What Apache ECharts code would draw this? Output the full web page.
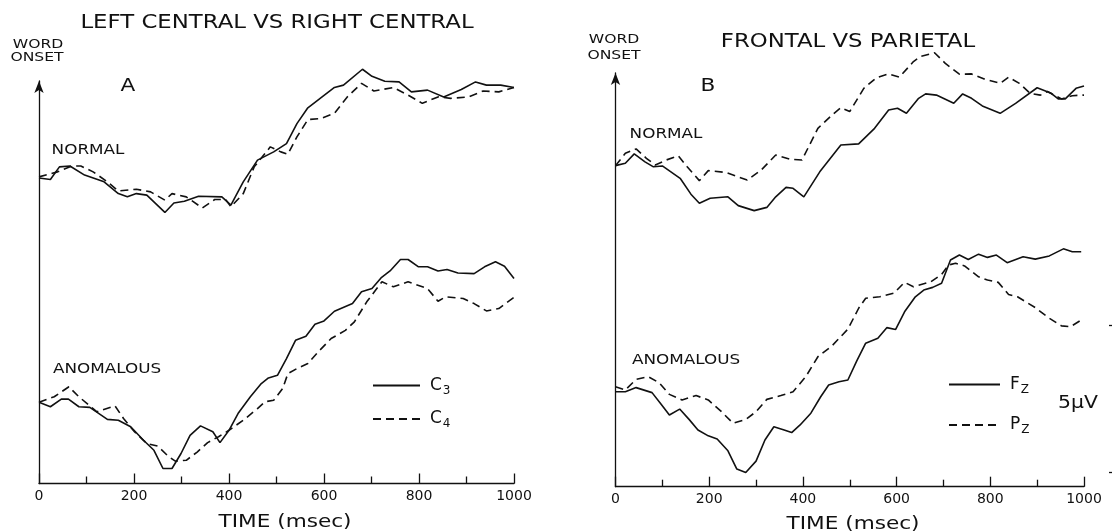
<!DOCTYPE html>
<html>
<head>
<meta charset="utf-8">
<title>Word onset ERP</title>
<script src="https://cdn.jsdelivr.net/npm/echarts@6.0.0/dist/echarts.min.js"></script>
<style>
    html, body { margin: 0; padding: 0; background: #fff; }
    #chart { width: 1112px; height: 531px; }
</style>
</head>
<body>
<div id="chart"></div>
<script>
'use strict';

// [time (msec), amplitude (µV above the time axis)]
// panel A: left central (C3) vs right central (C4)
var c3Normal = [[0,10.39],[24,10.34],[43,10.77],[65,10.80],[96,10.49],[137,10.26],[167,9.86],[186,9.75],[205,9.86],[227,9.81],[265,9.22],[284,9.54],[306,9.60],[336,9.77],[385,9.75],[404,9.47],[430,10.26],[460,11.00],[494,11.28],[521,11.56],[543,12.24],[566,12.78],[596,13.15],[622,13.47],[641,13.55],[681,14.09],[701,13.85],[728,13.68],[758,13.66],[784,13.32],[818,13.38],[852,13.15],[889,13.40],[919,13.66],[942,13.55],[972,13.55],[1000,13.47]];
var c4Normal = [[0,10.43],[39,10.60],[69,10.80],[88,10.80],[114,10.60],[144,10.26],[167,9.95],[205,10.01],[235,9.92],[265,9.64],[280,9.86],[310,9.75],[344,9.37],[370,9.66],[393,9.66],[404,9.41],[430,9.86],[453,10.77],[487,11.45],[509,11.28],[524,11.20],[543,11.79],[566,12.38],[592,12.41],[622,12.59],[649,13.15],[679,13.61],[705,13.35],[746,13.47],[777,13.21],[807,12.93],[840,13.15],[867,13.10],[904,13.15],[935,13.35],[968,13.32],[1000,13.47]];
var c3Anomalous = [[0,2.76],[24,2.61],[47,2.87],[62,2.87],[84,2.61],[107,2.59],[144,2.18],[167,2.15],[193,1.93],[220,1.47],[242,1.13],[261,0.51],[280,0.51],[299,1.02],[318,1.64],[340,1.96],[366,1.76],[381,1.39],[400,1.81],[419,2.38],[445,2.95],[468,3.40],[483,3.59],[502,3.68],[521,4.25],[540,4.87],[562,5.01],[581,5.42],[600,5.53],[622,5.86],[660,6.12],[679,6.52],[701,6.63],[720,6.99],[739,7.23],[761,7.62],[777,7.62],[799,7.37],[818,7.37],[840,7.23],[859,7.28],[882,7.16],[916,7.14],[938,7.37],[961,7.54],[980,7.39],[1000,6.97]];
var c4Anomalous = [[0,2.76],[32,2.95],[63,3.29],[84,2.95],[122,2.44],[160,2.64],[178,2.21],[201,1.76],[227,1.36],[250,1.27],[272,0.93],[287,0.76],[310,0.79],[333,1.07],[355,1.39],[378,1.59],[400,1.81],[430,2.15],[460,2.55],[476,2.78],[494,2.83],[513,3.23],[524,3.74],[543,3.91],[566,4.08],[588,4.48],[615,4.93],[645,5.21],[664,5.50],[690,6.18],[722,6.86],[746,6.69],[777,6.86],[818,6.63],[840,6.20],[856,6.35],[893,6.29],[916,6.12],[942,5.87],[968,5.95],[1000,6.33]];

// panel B: frontal (Fz) vs parietal (Pz)
var fzNormal = [[0,10.92],[21,11.00],[40,11.32],[63,11.05],[81,10.88],[100,10.91],[138,10.49],[161,9.95],[179,9.64],[202,9.81],[240,9.86],[262,9.56],[296,9.39],[323,9.50],[342,9.86],[364,10.18],[379,10.15],[402,9.86],[436,10.71],[481,11.62],[519,11.66],[553,12.19],[583,12.81],[602,12.87],[621,12.70],[647,13.21],[662,13.36],[685,13.32],[722,13.04],[741,13.36],[760,13.21],[783,12.95],[821,12.70],[854,13.04],[900,13.57],[930,13.38],[945,13.19],[960,13.19],[983,13.55],[1000,13.63]];
var pzNormal = [[0,10.92],[21,11.34],[44,11.49],[66,11.17],[85,10.94],[108,11.11],[134,11.26],[153,10.88],[179,10.41],[198,10.75],[236,10.69],[281,10.43],[311,10.77],[342,11.28],[372,11.14],[398,11.11],[432,12.19],[462,12.64],[481,12.89],[500,12.76],[530,13.55],[557,13.91],[583,14.04],[606,13.93],[636,14.46],[651,14.63],[681,14.76],[704,14.40],[734,14.03],[760,14.04],[787,13.87],[821,13.72],[839,13.93],[862,13.72],[885,13.38],[907,13.32],[922,13.44],[952,13.19],[975,13.30],[1000,13.32]];
var fzAnomalous = [[0,3.23],[21,3.23],[44,3.37],[78,3.20],[97,2.81],[115,2.44],[137,2.64],[157,2.29],[176,1.93],[198,1.73],[217,1.62],[240,1.22],[259,0.60],[278,0.48],[300,0.87],[319,1.59],[338,2.04],[360,1.93],[376,1.84],[394,2.10],[417,2.50],[438,3.06],[455,3.46],[477,3.57],[496,3.63],[515,4.28],[534,4.88],[560,5.05],[579,5.41],[598,5.35],[617,5.95],[640,6.46],[658,6.69],[677,6.78],[696,6.92],[715,7.71],[734,7.88],[753,7.73],[775,7.91],[794,7.80],[813,7.88],[836,7.62],[870,7.82],[896,7.74],[926,7.85],[956,8.09],[975,7.99],[994,7.99]];
var pzAnomalous = [[0,3.40],[21,3.29],[44,3.65],[70,3.74],[93,3.54],[115,3.14],[142,2.95],[172,3.10],[198,2.95],[225,2.57],[251,2.16],[278,2.29],[300,2.55],[323,2.97],[353,3.10],[379,3.23],[406,3.74],[432,4.42],[462,4.79],[496,5.36],[519,6.07],[534,6.41],[564,6.46],[594,6.58],[617,6.95],[636,6.80],[673,6.97],[696,7.22],[711,7.54],[726,7.60],[745,7.51],[775,7.14],[794,7.03],[817,6.95],[839,6.54],[858,6.46],[896,6.09],[926,5.73],[952,5.47],[971,5.44],[994,5.67]];

var timeTicks = [0, 1000, 200];      // min, max, labelled step (msec)
var scaleBar = [0.5, 5.5];           // 5 µV calibration marks

// layout (px)
var PX_PER_UV = 29.4;
var FONT = '"DejaVu Sans", sans-serif';
var INK = '#111';
var DASH = [8, 5];
var gridA = {left: 39, right: 598, top: 81, bottom: 47.5};
var gridB = {left: 615.5, right: 28, top: 73, bottom: 44.3};

function yMax(grid) {
    return (531 - grid.bottom - grid.top) / PX_PER_UV;
}

function timeAxis(gridIndex) {
    return {
        type: 'value',
        gridIndex: gridIndex,
        min: timeTicks[0],
        max: timeTicks[1],
        interval: timeTicks[2],
        axisLine: {lineStyle: {color: INK, width: 1.3}},
        axisTick: {inside: true, length: 10, lineStyle: {color: INK, width: 1.3}},
        minorTick: {show: true, splitNumber: 2, length: 7, lineStyle: {color: INK, width: 1.3}},
        splitLine: {show: false},
        axisLabel: {
            color: INK,
            fontFamily: FONT,
            fontSize: 14,
            margin: 6,
            formatter: function (v) {
                return String(v);
            }
        }
    };
}

function ampAxis(gridIndex, max) {
    return {
        type: 'value',
        gridIndex: gridIndex,
        min: 0,
        max: max,
        axisLine: {
            show: true,
            symbol: ['none', 'arrow'],
            symbolSize: [7, 12],
            lineStyle: {color: INK, width: 1.3}
        },
        axisTick: {show: false},
        axisLabel: {show: false},
        splitLine: {show: false}
    };
}

function trace(name, index, data, dashed) {
    return {
        type: 'line',
        name: name,
        xAxisIndex: index,
        yAxisIndex: index,
        data: data,
        symbol: 'none',
        clip: false,
        silent: true,
        itemStyle: {color: INK},
        lineStyle: {color: INK, width: 1.6, type: dashed ? DASH : 'solid'}
    };
}

function label(text, x, y, size) {
    return {
        type: 'text',
        x: x,
        y: y,
        scaleX: 1.2,
        style: {
            text: text,
            font: size + 'px ' + FONT,
            fill: INK,
            align: 'center',
            verticalAlign: 'middle'
        }
    };
}

function legend(names, left, top, width, gap) {
    return {
        data: names,
        orient: 'vertical',
        left: left,
        top: top,
        itemWidth: width,
        itemHeight: 14,
        itemGap: gap,
        selectedMode: false,
        itemStyle: {opacity: 0},
        formatter: function (name) {
            return name.charAt(0) + '{s|' + name.slice(1) + '}';
        },
        textStyle: {
            color: INK,
            fontFamily: FONT,
            fontSize: 17,
            padding: [0, 0, 0, 5],
            rich: {s: {fontSize: 12, fontFamily: FONT, color: INK, padding: [10, 0, 0, 1]}}
        }
    };
}

var yMaxB = yMax(gridB);

var option = {
    animation: false,
    backgroundColor: '#fff',
    grid: [gridA, gridB],
    xAxis: [timeAxis(0), timeAxis(1)],
    yAxis: [
        ampAxis(0, yMax(gridA)),
        ampAxis(1, yMaxB),
        {
            // 5 µV calibration bar at the right edge
            type: 'value',
            gridIndex: 1,
            position: 'right',
            offset: 25,
            min: 0,
            max: yMaxB,
            axisLine: {show: false},
            axisTick: {show: true, customValues: scaleBar, length: 4, lineStyle: {color: INK, width: 1.3}},
            axisLabel: {show: false},
            splitLine: {show: false}
        }
    ],
    legend: [
        legend(['C3', 'C4'], 367, 372, 47, 14),
        legend(['FZ', 'PZ'], 943, 371, 51, 21)
    ],
    series: [
        trace('C3', 0, c3Normal, false),
        trace('C4', 0, c4Normal, true),
        trace('C3', 0, c3Anomalous, false),
        trace('C4', 0, c4Anomalous, true),
        trace('FZ', 1, fzNormal, false),
        trace('PZ', 1, pzNormal, true),
        trace('FZ', 1, fzAnomalous, false),
        trace('PZ', 1, pzAnomalous, true)
    ],
    graphic: [
        label('LEFT CENTRAL VS RIGHT CENTRAL', 277, 23, 19),
        label('FRONTAL VS PARIETAL', 848, 42, 19),
        label('WORD', 38, 45, 13),
        label('ONSET', 37, 58, 13),
        label('WORD', 614, 40, 13),
        label('ONSET', 614, 56, 13),
        label('A', 128, 86, 18),
        label('B', 708, 86, 18),
        label('NORMAL', 88, 150, 14),
        label('ANOMALOUS', 107, 369, 14),
        label('NORMAL', 666, 134, 14),
        label('ANOMALOUS', 686, 360, 14),
        label('TIME (msec)', 285, 522, 18),
        label('TIME (msec)', 853, 524, 18),
        label('5μV', 1078, 404, 17)
    ]
};

var chart = echarts.init(document.getElementById('chart'), null, {renderer: 'canvas'});
chart.setOption(option);
</script>
</body>
</html>
